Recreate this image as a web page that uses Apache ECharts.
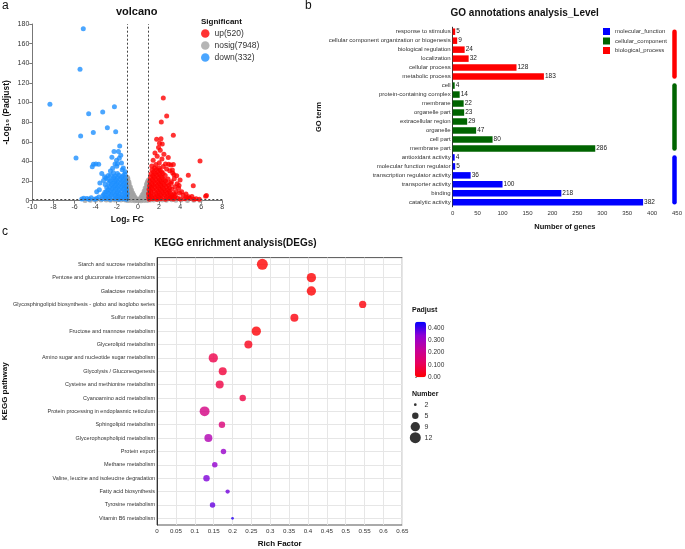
<!DOCTYPE html>
<html>
<head>
<meta charset="utf-8">
<script src="https://cdn.jsdelivr.net/npm/echarts@6.0.0/dist/echarts.min.js"></script>
<style>
html, body { margin: 0; padding: 0; background: #fff; }
#chart { width: 685px; height: 549px; }
</style>
</head>
<body>
<div id="chart"></div>
<script>
// ---- a: volcano ([log2FC, -log10 padj]) ----
const volcanoUp = [
  [2.41,104.6],[2.73,86.3],[2.22,80.2],[3.36,66.6],[5.89,40.4],[1.78,62.5],[2.19,63.1],[2.31,57.8],[2.05,58.5],[1.96,54.2],
  [2.12,51.5],[1.62,48.6],[2.47,47.2],[1.83,45.3],[2.88,44.1],[2.28,42.4],[1.45,41.2],[2.03,38.6],[2.62,37.4],[3.12,36.3],
  [2.92,37.1],[3.36,36.8],[1.32,35.4],[1.71,36.9],[2.4,34.8],[3.27,31.2],[3.68,25.4],[4.0,21.1],[3.9,15.6],[3.5,14.1],
  [4.15,9.2],[4.8,4.1],[4.56,6.8],[4.02,1.7],[4.78,25.8],[5.25,15.2],[6.5,5.2],[6.42,4.6],[5.12,4.3],[5.52,2.1],
  [5.82,1.6],[4.92,2.6],[4.42,1.9],[3.62,9.3],[3.72,17.2],[3.18,19.4],[3.45,22.3],[3.86,12.8],[3.3,28.1],[3.02,30.4],
  [2.72,32.2],[3.55,5.4],[3.95,7.8],[4.3,5.6],[4.62,2.9],[5.3,1.5],[3.22,3.6],[3.42,26.5],
  [1.08,1.6],[1.42,2.1],[1.81,1.4],[2.18,1.9],[2.62,1.5],[3.02,2.2],[3.38,1.7],[3.78,2.4],
  [1.04,3.4],[1.31,3.9],[1.63,3.1],[1.97,3.6],[2.33,4.2],[2.71,3.3],[3.08,3.8],[3.48,3.5],
  [1.16,5.3],[1.52,5.8],[1.86,5.1],[2.14,5.6],[2.52,6.1],[2.84,5.2],[3.26,5.9],
  [1.01,7.2],[1.28,7.8],[1.71,6.9],[2.02,7.5],[2.41,8.1],[2.76,7.3],[3.06,7.7],[3.44,7.1],
  [1.22,9.4],[1.56,9.9],[1.92,9.1],[2.26,9.6],[2.61,10.2],[2.97,9.3],
  [1.06,11.3],[1.39,11.8],[1.76,11.1],[2.11,11.6],[2.46,12.2],[2.81,11.2],[3.21,11.7],
  [1.26,13.4],[1.61,13.9],[1.96,13.2],[2.31,13.7],[2.69,14.1],[3.01,13.3],
  [1.11,15.3],[1.46,15.8],[1.82,15.2],[2.16,15.6],[2.51,16.2],[2.91,15.4],
  [1.31,17.3],[1.66,17.9],[2.01,17.2],[2.36,17.7],[2.76,18.1],[3.14,17.4],
  [1.14,19.4],[1.51,19.8],[1.89,19.1],[2.21,19.6],[2.61,20.2],
  [1.36,21.3],[1.71,21.9],[2.06,21.2],[2.44,21.7],[2.86,22.1],
  [1.19,23.3],[1.56,23.8],[1.94,23.2],[2.29,23.6],
  [1.41,25.4],[1.79,25.9],[2.16,25.2],[2.59,25.7],
  [1.24,27.3],[1.64,27.8],[2.01,27.1],[2.39,27.6],
  [1.49,29.3],[1.91,29.8],[2.26,29.2],
  [1.34,31.3],[1.76,31.8],[2.11,31.2],
  [1.59,33.3],[2.01,33.6]
];
const volcanoDown = [
  [-5.17,175.2],[-5.48,133.8],[-8.33,98.2],[-4.66,88.7],[-3.33,90.4],[-2.22,95.8],[-2.89,74.4],[-4.22,69.6],[-2.1,70.3],[-5.42,65.9],
  [-5.86,43.5],[-1.72,55.8],[-1.84,50.1],[-2.26,50.2],[-4.21,37.2],[-3.98,37.5],[-3.71,37.1],[-4.32,34.6],[-2.16,37.3],[-1.93,37.6],
  [-1.76,43.2],[-2.02,41.1],[-1.38,33.2],[-2.39,33.1],[-1.62,46.3],[-2.46,44.2],[-3.9,9.1],[-3.65,11.2],[-3.6,18.1],[-3.42,27.8],
  [-3.02,23.1],[-2.8,25.6],[-1.55,38.5],[-2.6,30.2],[-4.42,3.1],[-4.82,2.2],[-5.12,2.6],[-5.31,1.8],[-4.62,1.6],[-3.92,2.3],
  [-3.32,5.1],[-4.1,1.5],[-3.7,3.8],[-2.95,13.5],[-1.2,29.6],[-1.48,31.5],[-2.0,35],
  [-1.08,1.6],[-1.42,2.1],[-1.81,1.4],[-2.18,1.9],[-2.62,1.5],[-3.02,2.2],[-3.38,1.7],
  [-1.04,3.4],[-1.31,3.9],[-1.63,3.1],[-1.97,3.6],[-2.33,4.2],[-2.71,3.3],[-3.08,3.8],
  [-1.16,5.3],[-1.52,5.8],[-1.86,5.1],[-2.14,5.6],[-2.52,6.1],[-2.84,5.2],[-3.22,6.4],
  [-1.01,7.2],[-1.28,7.8],[-1.71,6.9],[-2.02,7.5],[-2.41,8.1],[-2.76,7.3],[-3.12,8.6],
  [-1.22,9.4],[-1.56,9.9],[-1.92,9.1],[-2.26,9.6],[-2.61,10.2],[-2.97,9.3],
  [-1.06,11.3],[-1.39,11.8],[-1.76,11.1],[-2.11,11.6],[-2.46,12.2],[-2.81,11.2],
  [-1.26,13.4],[-1.61,13.9],[-1.96,13.2],[-2.31,13.7],[-2.69,14.1],
  [-1.11,15.3],[-1.46,15.8],[-1.82,15.2],[-2.16,15.6],[-2.51,16.2],[-3.1,16.5],
  [-1.31,17.3],[-1.66,17.9],[-2.01,17.2],[-2.36,17.7],[-2.76,18.1],
  [-1.14,19.4],[-1.51,19.8],[-1.89,19.1],[-2.21,19.6],[-2.61,20.2],[-3.25,20.5],
  [-1.36,21.3],[-1.71,21.9],[-2.06,21.2],[-2.44,21.7],[-2.86,22.1],
  [-1.19,23.3],[-1.56,23.8],[-1.94,23.2],[-2.29,23.6],[-3.15,24.5],
  [-1.41,25.4],[-1.79,25.9],[-2.16,25.2],[-2.59,25.7],
  [-1.24,27.3],[-1.94,27.6],[-2.31,28.4]
];
const volcanoNosig = [
  [-5,0.3],[-4.5,0.5],[-4,0.4],[-3.5,0.6],[-3,0.8],[-2.6,0.5],[-2.2,0.7],[-1.9,0.9],[-1.6,0.6],[-1.3,1.0],
  [-1.1,0.4],[-0.9,0.2],[-0.6,0.1],[-0.3,0.05],[0,0],[0.3,0.05],[0.6,0.1],[0.9,0.2],[1.2,0.8],[1.5,0.6],
  [1.9,1.0],[2.3,0.7],[2.7,0.5],[3.2,0.9],[3.6,0.4],[4.1,0.6],[4.7,0.3],[5.3,0.5],[5.9,0.2],
  [-1.0,24],[-1.02,21],[-0.98,18],[-1.05,15],[-0.97,12],[-1.0,9],[-0.99,6],[-1.03,3],[-0.92,20],[-0.9,16],
  [-0.88,13],[-0.91,10],[-0.87,7],[-0.9,4],[-0.82,17],[-0.8,14],[-0.78,11],[-0.81,8],[-0.79,5],[-0.8,2],
  [-0.7,14],[-0.68,11],[-0.72,8],[-0.66,5],[-0.7,2],[-0.6,11],[-0.58,8],[-0.62,5],[-0.55,2.5],[-0.5,8],
  [-0.48,5.5],[-0.45,3],[-0.4,6],[-0.38,3.5],[-0.35,1.5],[-0.3,4],[-0.25,2],[-0.2,2.5],[-0.15,1],[-0.1,0.8],
  [-0.95,22.5],[-0.85,19],
  [1.0,21],[0.98,18],[1.02,15],[0.97,12],[1.0,9],[0.99,6],[1.01,3],[0.92,19],[0.9,15],[0.88,12],
  [0.91,9],[0.87,6],[0.9,3],[0.82,16],[0.8,13],[0.78,10],[0.81,7],[0.79,4],[0.7,13],[0.68,10],
  [0.72,7],[0.66,4],[0.7,1.5],[0.6,10],[0.58,7],[0.62,4.5],[0.55,2],[0.5,7],[0.48,4.5],[0.45,2.5],
  [0.4,5.5],[0.38,3],[0.35,1.2],[0.3,3.5],[0.25,2],[0.2,2],[0.15,1],[0.1,0.6],[0.95,20],[0.85,17.5]
];
const volcanoNames = ['up(520)', 'nosig(7948)', 'down(332)'];
const fcCutoffs = [-1, 1];
const padjCutoff = 1.3;

// ---- b: GO annotations ----
const goTerms = [
  'response to stimulus', 'cellular component organization or biogenesis', 'biological regulation',
  'localization', 'cellular process', 'metabolic process',
  'cell', 'protein-containing complex', 'membrane', 'organelle part', 'extracellular region',
  'organelle', 'cell part', 'membrane part',
  'antioxidant activity', 'molecular function regulator', 'transcription regulator activity',
  'transporter activity', 'binding', 'catalytic activity'
];
const goCounts = [5, 9, 24, 32, 128, 183, 4, 14, 22, 23, 29, 47, 80, 286, 4, 5, 36, 100, 218, 382];
const goGroups = [
  'biological_process', 'biological_process', 'biological_process', 'biological_process', 'biological_process', 'biological_process',
  'cellular_component', 'cellular_component', 'cellular_component', 'cellular_component', 'cellular_component',
  'cellular_component', 'cellular_component', 'cellular_component',
  'molecular_function', 'molecular_function', 'molecular_function', 'molecular_function', 'molecular_function', 'molecular_function'
];
const goLegend = ['molecular_function', 'cellular_component', 'biological_process'];

// ---- c: KEGG enrichment ----
const keggPathways = [
  'Starch and sucrose metabolism',
  'Pentose and glucuronate interconversions',
  'Galactose metabolism',
  'Glycosphingolipid biosynthesis - globo and isoglobo series',
  'Sulfur metabolism',
  'Fructose and mannose metabolism',
  'Glycerolipid metabolism',
  'Amino sugar and nucleotide sugar metabolism',
  'Glycolysis / Gluconeogenesis',
  'Cysteine and methionine metabolism',
  'Cyanoamino acid metabolism',
  'Protein processing in endoplasmic reticulum',
  'Sphingolipid metabolism',
  'Glycerophospholipid metabolism',
  'Protein export',
  'Methane metabolism',
  'Valine, leucine and isoleucine degradation',
  'Fatty acid biosynthesis',
  'Tyrosine metabolism',
  'Vitamin B6 metabolism'
];
const keggRichFactor = [0.279, 0.409, 0.409, 0.545, 0.364, 0.263, 0.242, 0.149, 0.174, 0.166,
                        0.227, 0.126, 0.172, 0.136, 0.176, 0.153, 0.131, 0.187, 0.147, 0.2];
const keggNumber = [12, 9, 9, 6, 7, 9, 7, 9, 7, 7, 5, 10, 5, 7, 4, 4, 5, 3, 4, 2];
const keggPadjust = [0.001, 0.003, 0.004, 0.012, 0.015, 0.006, 0.03, 0.09, 0.07, 0.08,
                     0.08, 0.18, 0.16, 0.27, 0.32, 0.33, 0.35, 0.36, 0.37, 0.42];
const sizeLegendValues = [2, 5, 9, 12];

const goColors = { biological_process: '#ff0000', cellular_component: '#006400', molecular_function: '#0000ff' };
const padjColors = ['#ff0000', '#e8005e', '#c5009a', '#9000d4', '#0000ff'];
const bracketX = 445;

function numberToSize(n) {
  return Math.sqrt(Math.max(11.37 * n - 15.4, 4));
}

var myChart = echarts.init(document.getElementById('chart'));

const titleFont = { fontWeight: 'bold', color: '#111' };
const axisName = { fontWeight: 'bold', fontSize: 8, color: '#111' };

// GO bars, one series per group so the legend works
const goBarSeries = goLegend.map(function (g) {
  return {
    name: g,
    type: 'bar',
    xAxisIndex: 1,
    yAxisIndex: 1,
    stack: 'go',
    barWidth: 6.5,
    itemStyle: { color: goColors[g] },
    label: { show: true, position: 'right', distance: 1, fontSize: 6.5, color: '#222' },
    data: goCounts.map(function (v, i) { return goGroups[i] === g ? v : '-'; })
  };
});
// coloured group brackets on the right
const goBracketSeries = goLegend.map(function (g) {
  const first = goGroups.indexOf(g);
  const last = goGroups.lastIndexOf(g);
  return {
    name: g + '-bracket',
    type: 'line',
    xAxisIndex: 1,
    yAxisIndex: 1,
    symbol: 'none',
    silent: true,
    lineStyle: { color: goColors[g], width: 4.5, cap: 'round' },
    data: [[bracketX, goTerms[first]], [bracketX, goTerms[last]]]
  };
});

myChart.setOption({
  animation: false,
  textStyle: { fontFamily: 'Liberation Sans, Arial, sans-serif' },
  title: [
    { text: 'a', left: 2, top: 0, padding: 0, textStyle: { fontSize: 12, fontWeight: 'normal', color: '#111' } },
    { text: 'volcano', left: 136.7, top: 6, padding: 0, textAlign: 'center', textStyle: Object.assign({ fontSize: 11 }, titleFont) },
    { text: 'Significant', left: 201, top: 18, padding: 0, textStyle: Object.assign({ fontSize: 8 }, titleFont) },
    { text: 'b', left: 305, top: 0, padding: 0, textStyle: { fontSize: 12, fontWeight: 'normal', color: '#111' } },
    { text: 'GO annotations analysis_Level', left: 524.7, top: 8, padding: 0, textAlign: 'center', textStyle: Object.assign({ fontSize: 10 }, titleFont) },
    { text: 'c', left: 2, top: 226, padding: 0, textStyle: { fontSize: 12, fontWeight: 'normal', color: '#111' } },
    { text: 'KEGG enrichment analysis(DEGs)', left: 235.5, top: 238.5, padding: 0, textAlign: 'center', textStyle: Object.assign({ fontSize: 10 }, titleFont) },
    { text: 'Padjust', left: 412, top: 307, padding: 0, textStyle: Object.assign({ fontSize: 7 }, titleFont) },
    { text: 'Number', left: 412, top: 390.5, padding: 0, textStyle: Object.assign({ fontSize: 7 }, titleFont) }
  ],
  legend: [
    {
      data: volcanoNames, orient: 'vertical', left: 201, top: 29, padding: 0,
      icon: 'circle', itemWidth: 8.5, itemHeight: 8.5, itemGap: 3, selectedMode: false,
      textStyle: { fontSize: 8.5, color: '#333' }
    },
    {
      data: goLegend, orient: 'vertical', left: 603, top: 28, padding: 0,
      icon: 'rect', itemWidth: 7, itemHeight: 7, itemGap: 2.5, selectedMode: false,
      textStyle: { fontSize: 6, color: '#333' }
    }
  ],
  visualMap: [{
    type: 'continuous',
    seriesIndex: 9,
    dimension: 2,
    min: 0,
    max: 0.45,
    inRange: { color: padjColors },
    calculable: false,
    hoverLink: false,
    itemWidth: 11,
    itemHeight: 55.6,
    left: 415,
    top: 321.7,
    padding: 0,
    text: null
  }],
  grid: [
    { left: 32.3, top: 24, width: 190, height: 176.7 },
    { left: 452.7, top: 27.2, width: 224.6, height: 179.6 },
    { left: 155, top: 257.6, width: 247.3, height: 270.5, show: true, borderColor: '#555', borderWidth: 1 },
    { left: 415, top: 321.7, width: 11, height: 55.6 },
    { left: 410, top: 399.2, width: 10.6, height: 44 }
  ],
  xAxis: [
    {
      gridIndex: 0, type: 'value', min: -10, max: 8, interval: 2,
      axisLine: { onZero: false, lineStyle: { color: '#777' } },
      axisTick: { length: 3, lineStyle: { color: '#777' } },
      axisLabel: { fontSize: 7, color: '#333', margin: 3 },
      splitLine: { show: false },
      name: 'Log₂ FC', nameLocation: 'middle', nameGap: 14, nameTextStyle: Object.assign({}, axisName, { fontSize: 8.5 })
    },
    {
      gridIndex: 1, type: 'value', min: 0, max: 450, interval: 50,
      axisLine: { onZero: false, lineStyle: { color: '#333' } },
      axisTick: { length: 3, lineStyle: { color: '#333' } },
      axisLabel: { fontSize: 6, color: '#333', margin: 4 },
      splitLine: { show: false },
      name: 'Number of genes', nameLocation: 'middle', nameGap: 16, nameTextStyle: Object.assign({}, axisName, { fontSize: 7.5 })
    },
    {
      gridIndex: 2, type: 'value', min: 0, max: 0.65, interval: 0.05,
      axisLine: { onZero: false, lineStyle: { color: '#333' } },
      axisTick: { length: 2.5, lineStyle: { color: '#333' } },
      axisLabel: { fontSize: 6.2, color: '#333', margin: 3, formatter: function (v) { return String(+v.toFixed(2)); } },
      splitLine: { show: true, lineStyle: { color: '#e6e6e6', width: 1 } },
      name: 'Rich Factor', nameLocation: 'middle', nameGap: 15, nameTextStyle: Object.assign({}, axisName, { fontSize: 8 })
    },
    { gridIndex: 3, type: 'value', show: false, min: 0, max: 1 },
    { gridIndex: 4, type: 'value', show: false, min: -1, max: 1 }
  ],
  yAxis: [
    {
      gridIndex: 0, type: 'value', min: 0, max: 180, interval: 20,
      axisLine: { show: true, onZero: false, lineStyle: { color: '#777' } },
      axisTick: { show: true, length: 3, lineStyle: { color: '#777' } },
      axisLabel: { fontSize: 7, color: '#333', margin: 3 },
      splitLine: { show: false },
      name: '-Log₁₀ (Padjust)', nameLocation: 'middle', nameGap: 21, nameTextStyle: Object.assign({}, axisName, { fontSize: 8.5 })
    },
    {
      gridIndex: 1, type: 'category', inverse: true, data: goTerms,
      axisLine: { onZero: false, lineStyle: { color: '#333' } },
      axisTick: { alignWithLabel: true, length: 3, lineStyle: { color: '#333' } },
      axisLabel: { fontSize: 6, color: '#333', margin: 2, interval: 0 },
      name: 'GO term', nameLocation: 'middle', nameGap: 130, nameTextStyle: Object.assign({}, axisName, { fontSize: 7.5 })
    },
    {
      gridIndex: 2, type: 'category', inverse: true, data: keggPathways,
      axisLine: { onZero: false, lineStyle: { color: '#333' } },
      axisTick: { alignWithLabel: true, length: 2.5, lineStyle: { color: '#333' } },
      axisLabel: { fontSize: 5.5, color: '#333', margin: 2, interval: 0 },
      splitLine: { show: true, alignWithLabel: true, lineStyle: { color: '#e6e6e6', width: 1 } },
      name: 'KEGG pathway', nameLocation: 'middle', nameGap: 142, nameTextStyle: Object.assign({}, axisName, { fontSize: 8 })
    },
    {
      gridIndex: 3, type: 'value', min: 0, max: 0.45, interval: 0.1, position: 'right',
      axisLine: { show: false },
      axisTick: { show: true, length: 2, lineStyle: { color: '#999' } },
      axisLabel: {
        fontSize: 6.5, color: '#333', margin: 2, showMaxLabel: false,
        formatter: function (v) { return v === 0 ? '0.00' : v.toFixed(3); }
      },
      splitLine: { show: false }
    },
    {
      gridIndex: 4, type: 'category', inverse: true, position: 'right',
      data: sizeLegendValues.map(String),
      axisLine: { show: false }, axisTick: { show: false },
      axisLabel: { fontSize: 7, color: '#333', margin: 4 }
    }
  ],
  series: [
    {
      name: volcanoNames[1], type: 'scatter', xAxisIndex: 0, yAxisIndex: 0,
      symbolSize: 5, itemStyle: { color: '#a3a3a3' }, data: volcanoNosig,
      markLine: {
        silent: true, symbol: ['none', 'none'], label: { show: false },
        lineStyle: { color: '#444', width: 1, type: [2, 2] },
        data: [{ xAxis: fcCutoffs[0] }, { xAxis: fcCutoffs[1] }, { yAxis: padjCutoff }]
      }
    },
    {
      name: volcanoNames[0], type: 'scatter', xAxisIndex: 0, yAxisIndex: 0,
      symbolSize: 5, itemStyle: { color: '#ff0000' }, data: volcanoUp
    },
    {
      name: volcanoNames[2], type: 'scatter', xAxisIndex: 0, yAxisIndex: 0,
      symbolSize: 5, itemStyle: { color: '#1e90ff' }, data: volcanoDown
    }
  ].concat(goBarSeries, goBracketSeries, [
    {
      name: 'KEGG', type: 'scatter', xAxisIndex: 2, yAxisIndex: 2,
      itemStyle: { opacity: 0.8 },
      symbolSize: function (v) { return numberToSize(v[3]); },
      data: keggPathways.map(function (p, i) {
        return [keggRichFactor[i], p, keggPadjust[i], keggNumber[i]];
      })
    },
    {
      name: 'Number', type: 'scatter', xAxisIndex: 4, yAxisIndex: 4,
      itemStyle: { color: '#000' },
      symbolSize: function (v) { return numberToSize(v[2]); },
      data: sizeLegendValues.map(function (n) { return [0, String(n), n]; })
    }
  ])
});
</script>
</body>
</html>
